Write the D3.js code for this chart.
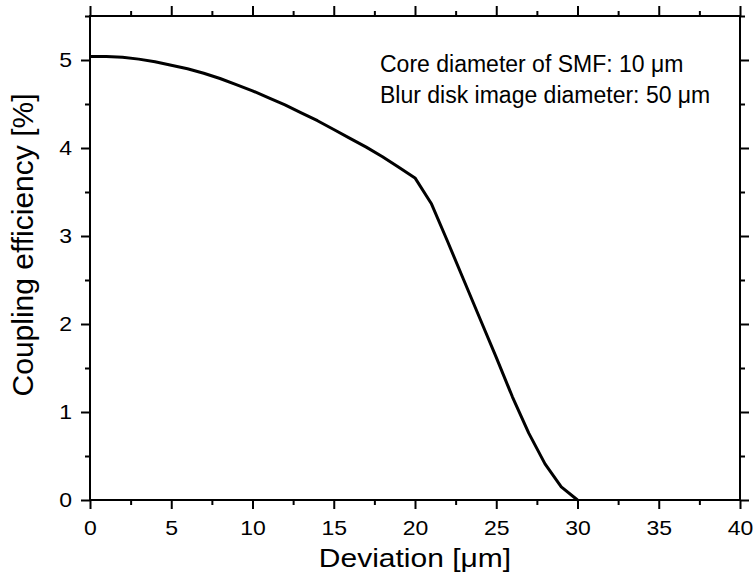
<!DOCTYPE html>
<html>
<head>
<meta charset="utf-8">
<script src="https://cdn.jsdelivr.net/npm/d3@7"></script>
<style>
  body { margin: 0; background: #fff; }
  text { font-family: "Liberation Sans", Arial, sans-serif; fill: #000; }
</style>
</head>
<body>
<div id="chart"></div>
<script>
// deviation [um] and coupling efficiency [%]
var deviation = [0,1,2,3,4,5,6,7,8,9,10,11,12,13,14,15,16,17,18,19,20,21,22,23,24,25,26,27,28,29,30];
var efficiency = [5.04,5.04,5.03,5.01,4.98,4.94,4.90,4.85,4.79,4.72,4.65,4.57,4.49,4.40,4.31,4.21,4.11,4.01,3.90,3.78,3.66,3.37,2.94,2.50,2.06,1.62,1.17,0.76,0.41,0.15,0];
var xTicks = [0,5,10,15,20,25,30,35,40];
var yTicks = [0,1,2,3,4,5];
var notes = ["Core diameter of SMF: 10 \u03bcm", "Blur disk image diameter: 50 \u03bcm"];

var margin = {top: 16, right: 15, bottom: 82, left: 90},
    width = 755 - margin.left - margin.right,
    height = 582 - margin.top - margin.bottom;

var svg = d3.select("#chart")
  .append("svg")
    .attr("width", 755)
    .attr("height", 582)
  .append("g")
    .attr("transform", "translate(" + margin.left + "," + margin.top + ")");

var x = d3.scaleLinear().domain([0, 40]).range([0, width]);
var y = d3.scaleLinear().domain([0, 5.5]).range([height, 0]);

var xMinor = d3.range(0, 40.01, 2.5).filter(function(d){ return d % 5 !== 0; });
var yMinor = d3.range(0, 5.51, 0.5).filter(function(d){ return d % 1 !== 0; });

function styleAxis(g) {
  g.selectAll("line").attr("stroke", "#000").attr("stroke-width", 2);
  g.select(".domain").remove();
}

// major ticks, four sides
svg.append("g").attr("transform", "translate(0," + height + ")")
  .call(d3.axisBottom(x).tickValues(xTicks).tickSize(9).tickPadding(12).tickFormat(d3.format("d")))
  .call(styleAxis)
  .selectAll("text").style("font-size", "20px")
    .attr("transform", "scale(1.15,1)");
svg.append("g")
  .call(d3.axisTop(x).tickValues(xTicks).tickSize(10).tickFormat(""))
  .call(styleAxis);
svg.append("g")
  .call(d3.axisLeft(y).tickValues(yTicks).tickSize(9).tickFormat(d3.format("d")))
  .call(styleAxis)
  .selectAll("text").style("font-size", "20px")
    .attr("transform", "scale(1.15,1)")
    .attr("x", -18 / 1.15);
svg.append("g").attr("transform", "translate(" + width + ",0)")
  .call(d3.axisRight(y).tickValues(yTicks).tickSize(9).tickFormat(""))
  .call(styleAxis);

// minor ticks
svg.append("g").attr("transform", "translate(0," + height + ")")
  .call(d3.axisBottom(x).tickValues(xMinor).tickSize(5).tickFormat(""))
  .call(styleAxis);
svg.append("g")
  .call(d3.axisTop(x).tickValues(xMinor).tickSize(5).tickFormat(""))
  .call(styleAxis);
svg.append("g")
  .call(d3.axisLeft(y).tickValues(yMinor).tickSize(5).tickFormat(""))
  .call(styleAxis);
svg.append("g").attr("transform", "translate(" + width + ",0)")
  .call(d3.axisRight(y).tickValues(yMinor).tickSize(5).tickFormat(""))
  .call(styleAxis);

// frame
svg.append("rect")
  .attr("x", 0).attr("y", 0)
  .attr("width", width).attr("height", height)
  .attr("fill", "none")
  .attr("stroke", "#000")
  .attr("stroke-width", 2);

// curve
var pts = deviation.map(function(d, i){ return [d, efficiency[i]]; });
svg.append("path")
  .datum(pts)
  .attr("d", d3.line()
    .x(function(d){ return x(d[0]); })
    .y(function(d){ return y(d[1]); }))
  .attr("fill", "none")
  .attr("stroke", "#000")
  .attr("stroke-width", 3)
  .attr("stroke-linejoin", "round");

// notes
svg.selectAll(".note")
  .data(notes)
  .enter()
  .append("text")
    .attr("class", "note")
    .attr("x", 290)
    .attr("y", function(d, i){ return 56 + i * 31; })
    .style("font-size", "23px")
    .text(function(d){ return d; });

// axis titles
svg.append("text")
  .attr("text-anchor", "middle")
  .attr("transform", "translate(" + (width / 2) + "," + (height + 67) + ") scale(1.2,1)")
  .style("font-size", "25px")
  .text("Deviation [\u03bcm]");

svg.append("text")
  .attr("text-anchor", "middle")
  .attr("transform", "translate(" + (33 - margin.left) + "," + (245 - margin.top) + ") rotate(-90)")
  .style("font-size", "30px")
  .text("Coupling efficiency [%]");
</script>
</body>
</html>
